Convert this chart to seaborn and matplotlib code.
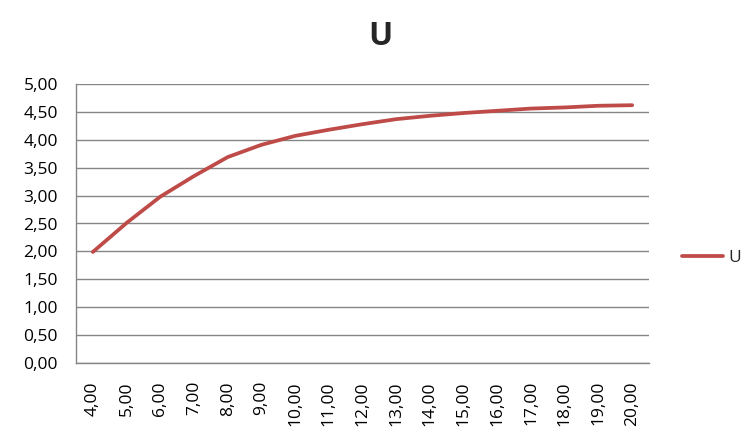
import numpy as np
import matplotlib
matplotlib.use("Agg")
import matplotlib.pyplot as plt
import seaborn as sns
import pandas as pd
from matplotlib.ticker import FixedLocator, FuncFormatter

# category values (x) and series U
x_vals = [4, 5, 6, 7, 8, 9, 10, 11, 12, 13, 14, 15, 16, 17, 18, 19, 20]
u_vals = [1.99, 2.51, 2.98, 3.35, 3.69, 3.91, 4.07, 4.18, 4.28, 4.37, 4.43,
          4.48, 4.52, 4.56, 4.58, 4.61, 4.62]
y_ticks = [0, 0.5, 1, 1.5, 2, 2.5, 3, 3.5, 4, 4.5, 5]

sns.set_style("white")
plt.rcParams['font.family'] = ['Open Sans', 'DejaVu Sans']

df = pd.DataFrame({'x': x_vals, 'U': u_vals})

fig = plt.figure(figsize=(7.56, 4.44), dpi=100)
ax = fig.add_axes([76 / 756, 1 - 363 / 444, (649 - 76) / 756, (363 - 84) / 444])

line_color = '#BE4B48'
grid_color = '#868686'

sns.lineplot(data=df, x='x', y='U', ax=ax, color=line_color, linewidth=2.7,
             label='U', legend=False, solid_joinstyle='round', solid_capstyle='round')

ax.set_xlim(3.5, 20.5)
ax.set_ylim(0, 5)

# y axis
ax.yaxis.set_major_locator(FixedLocator(y_ticks))
ax.yaxis.set_major_formatter(FuncFormatter(lambda v, p: f"{v:.2f}".replace('.', ',')))
ax.grid(axis='y', color=grid_color, linewidth=1)
ax.tick_params(axis='y', length=6, color=grid_color, width=1, labelsize=12.5, pad=7,
               labelcolor='black')

# x axis: labels at centers, tick marks at boundaries
ax.xaxis.set_major_locator(FixedLocator(x_vals))
ax.xaxis.set_major_formatter(FuncFormatter(lambda v, p: f"{v:.2f}".replace('.', ',')))
ax.xaxis.set_minor_locator(FixedLocator(np.arange(3.5, 21, 1)))
ax.tick_params(axis='x', which='major', length=0, labelsize=12.5, labelrotation=90, pad=13,
               labelcolor='black')
ax.tick_params(axis='x', which='minor', length=6, color=grid_color, width=1)
ax.set_xlabel('')
ax.set_ylabel('')

for s in ['top', 'right']:
    ax.spines[s].set_visible(False)
for s in ['left', 'bottom']:
    ax.spines[s].set_color(grid_color)
    ax.spines[s].set_linewidth(1)

fig.suptitle('U', fontsize=23, fontweight='bold', x=380 / 756, y=1 - 36 / 444, va='center')

handles, labels = ax.get_legend_handles_labels()
fig.legend(handles, labels, loc='center left', bbox_to_anchor=(666 / 756, 1 - 258 / 444),
           frameon=False, fontsize=12.5, handlelength=2.4, handletextpad=0.3)

fig.savefig('out.png', dpi=100)
